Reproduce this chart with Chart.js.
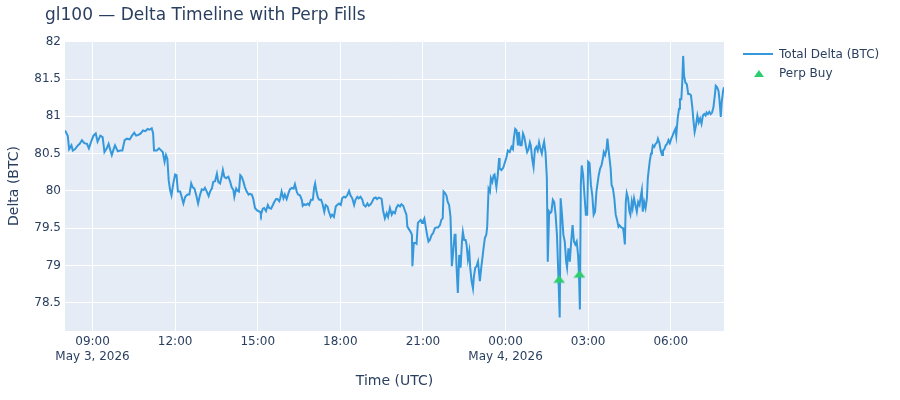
<!DOCTYPE html>
<html>
<head>
<meta charset="utf-8">
<title>gl100 — Delta Timeline with Perp Fills</title>
<script src="https://cdn.jsdelivr.net/npm/chart.js@4.4.1/dist/chart.umd.min.js"></script>
<style>
    body { margin: 0; background: #fff; font-family: 'DejaVu Sans', Verdana, sans-serif; }
    .wrap { position: relative; width: 900px; height: 400px; }
    .wrap canvas { position: absolute; left: 0; top: 0; }
    .chart-title { position: absolute; left: 45px; top: 4px; font-size: 17px; line-height: 20px; color: #2a3f5f; white-space: nowrap; }
    .legend-item { position: absolute; left: 743px; height: 14px; font-size: 12px; line-height: 14px; color: #2a3f5f; white-space: nowrap; }
    .legend-sym { position: absolute; left: 0; top: 0; width: 36px; height: 14px; }
    .legend-text { position: absolute; left: 36px; top: 0; }
    .sym-line { position: absolute; left: 0; top: 6px; width: 30px; height: 2px; background: #3498db; }
    .sym-tri { position: absolute; left: 11px; top: 4px; width: 0; height: 0;
               border-left: 5px solid transparent; border-right: 5px solid transparent; border-bottom: 7px solid #2ecc71; }
</style>
</head>
<body>
<div class="wrap">
    <canvas id="deltaChart" width="900" height="400"></canvas>
    <div class="chart-title">gl100 — Delta Timeline with Perp Fills</div>
    <div id="legend-container"></div>
</div>
<script>
// minutes after 08:00 UTC, May 3 2026
const minutes = [
    0, 6, 9, 14, 17, 22, 28, 32, 37, 42, 48, 52, 57, 62, 67, 71, 77, 82, 86, 91,
    95, 99, 102, 106, 109, 115, 120, 125, 130, 135, 141, 146, 151, 155, 160, 165, 170, 175, 180, 184,
    189, 192, 194, 200, 205, 210, 213, 217, 220, 223, 226, 229, 232, 236, 240, 243, 246, 251, 255, 258,
    262, 267, 271, 275, 278, 282, 286, 290, 294, 298, 302, 305, 309, 313, 316, 320, 323, 327, 331, 334,
    338, 342, 344, 347, 351, 356, 360, 363, 367, 369, 373, 376, 379, 382, 385, 389, 392, 396, 400, 403,
    407, 410, 414, 418, 421, 425, 427, 431, 434, 438, 442, 445, 449, 453, 456, 460, 463, 467, 469, 472,
    476, 479, 483, 487, 490, 494, 498, 501, 505, 508, 512, 516, 518, 521, 525, 529, 532, 536, 540, 543,
    545, 548, 551, 554, 558, 561, 565, 568, 572, 575, 579, 582, 586, 590, 593, 597, 601, 604, 608, 611,
    615, 619, 622, 626, 630, 633, 637, 640, 644, 648, 651, 655, 659, 662, 666, 669, 673, 677, 680, 684,
    688, 690, 693, 697, 701, 704, 708, 712, 715, 719, 722, 726, 730, 733, 737, 741, 744, 746, 750, 753,
    756, 757, 760, 764, 766, 769, 772, 775, 778, 780, 783, 786, 789, 792, 795, 799, 802, 806, 809, 813,
    817, 820, 823, 825, 828, 831, 834, 837, 840, 843, 846, 849, 851, 853, 856, 859, 862, 865, 867, 870,
    873, 875, 878, 881, 883, 886, 889, 891, 894, 897, 900, 904, 907, 910, 912, 915, 918, 920, 923, 926,
    928, 931, 934, 936, 940, 943, 946, 947, 951, 955, 958, 962, 965, 969, 973, 976, 978, 981, 984, 987,
    989, 992, 995, 998, 1001, 1004, 1007, 1010, 1013, 1015, 1018, 1021, 1024, 1027, 1030, 1033, 1036, 1039, 1042, 1044,
    1047, 1050, 1052, 1055, 1057, 1060, 1063, 1066, 1069, 1072, 1075, 1078, 1080, 1083, 1086, 1089, 1092, 1094, 1097, 1100,
    1103, 1106, 1109, 1112, 1115, 1118, 1120, 1122, 1124, 1126, 1129, 1132, 1135, 1138, 1140, 1143, 1146, 1149, 1152, 1155,
    1158, 1160, 1163, 1166, 1169, 1172, 1174, 1177, 1180, 1182, 1185, 1189, 1191, 1194, 1197, 1200, 1203, 1206, 1208, 1212,
    1216, 1218, 1220, 1222, 1224, 1227, 1230, 1232, 1235, 1237, 1240, 1243, 1246, 1249, 1252, 1255, 1257, 1259, 1262, 1265,
    1268, 1270, 1272, 1274, 1277, 1279, 1281, 1284, 1287, 1290, 1292, 1295, 1298, 1301, 1303, 1306, 1309, 1312, 1315, 1318,
    1321, 1324, 1327, 1330, 1332, 1335, 1338, 1340, 1343, 1345, 1347, 1349, 1352, 1355, 1358, 1361, 1364, 1367, 1369, 1372,
    1375, 1378, 1381, 1384, 1387, 1390, 1393, 1396, 1398, 1401, 1404, 1407, 1410, 1413, 1416, 1418, 1421, 1424, 1426, 1429,
    1431, 1434, 1436
];
const totalDelta = [
    80.81, 80.74, 80.56, 80.61, 80.54, 80.56, 80.61, 80.63, 80.68, 80.64, 80.63, 80.57, 80.66, 80.74, 80.77, 80.66, 80.74, 80.72, 80.52, 80.57,
    80.63, 80.54, 80.48, 80.56, 80.61, 80.53, 80.54, 80.54, 80.68, 80.70, 80.69, 80.74, 80.78, 80.74, 80.75, 80.77, 80.81, 80.80, 80.83, 80.82,
    80.84, 80.77, 80.54, 80.54, 80.57, 80.54, 80.52, 80.39, 80.48, 80.43, 80.14, 80.01, 79.94, 80.10, 80.22, 80.21, 79.99, 79.99, 79.90, 79.83,
    79.92, 79.95, 79.95, 80.10, 80.05, 80.03, 79.94, 79.83, 79.94, 80.02, 80.01, 80.04, 79.99, 79.93, 79.99, 80.03, 80.12, 80.13, 80.23, 80.12,
    80.10, 80.21, 80.28, 80.19, 80.17, 80.19, 80.12, 80.05, 80.01, 79.92, 80.03, 80.00, 79.99, 80.21, 80.19, 80.12, 80.05, 79.99, 79.95, 79.96,
    79.95, 79.90, 79.77, 79.74, 79.73, 79.72, 79.68, 79.76, 79.77, 79.73, 79.81, 79.77, 79.76, 79.81, 79.85, 79.89, 79.89, 79.86, 79.90, 79.99,
    79.90, 79.95, 79.89, 79.97, 80.02, 80.04, 80.03, 80.09, 79.99, 79.95, 79.94, 79.88, 79.80, 79.82, 79.81, 79.83, 79.81, 79.88, 79.88, 80.05,
    80.10, 79.99, 79.91, 79.88, 79.88, 79.83, 79.72, 79.81, 79.79, 79.72, 79.65, 79.68, 79.65, 79.79, 79.81, 79.83, 79.81, 79.90, 79.92, 79.91,
    79.94, 80.00, 79.94, 79.90, 79.81, 79.88, 79.92, 79.90, 79.92, 79.88, 79.81, 79.79, 79.83, 79.80, 79.82, 79.85, 79.90, 79.91, 79.89, 79.91,
    79.90, 79.89, 79.74, 79.63, 79.70, 79.65, 79.77, 79.68, 79.72, 79.70, 79.77, 79.81, 79.79, 79.82, 79.80, 79.73, 79.68, 79.52, 79.48, 79.45,
    79.41, 78.99, 79.30, 79.30, 79.29, 79.57, 79.59, 79.61, 79.57, 79.59, 79.63, 79.52, 79.41, 79.32, 79.34, 79.41, 79.43, 79.50, 79.51, 79.51,
    79.54, 79.61, 79.63, 79.99, 79.97, 79.94, 79.85, 79.81, 79.65, 78.99, 79.19, 79.41, 79.41, 79.01, 78.63, 79.14, 78.97, 79.32, 79.45, 79.34,
    79.34, 79.28, 79.08, 79.19, 78.97, 78.79, 78.69, 78.85, 78.97, 78.99, 79.05, 78.79, 78.97, 79.12, 79.23, 79.37, 79.41, 79.52, 80.03, 79.99,
    80.17, 80.12, 80.21, 80.22, 80.05, 80.21, 80.44, 80.30, 80.28, 80.31, 80.37, 80.45, 80.54, 80.52, 80.59, 80.56, 80.70, 80.83, 80.81, 80.61,
    80.79, 80.61, 80.61, 80.77, 80.72, 80.61, 80.52, 80.56, 80.65, 80.61, 80.43, 80.32, 80.56, 80.59, 80.54, 80.65, 80.56, 80.50, 80.61, 80.66,
    80.52, 80.17, 79.05, 79.72, 79.70, 79.72, 79.88, 79.85, 79.68, 79.41, 78.88, 78.30, 79.90, 79.68, 79.41, 79.32, 79.05, 78.97, 79.23, 79.05,
    79.32, 79.54, 79.32, 79.28, 79.32, 79.14, 78.88, 78.41, 80.08, 80.34, 80.21, 79.94, 79.68, 79.68, 80.39, 80.37, 80.08, 79.94, 79.68, 79.72,
    79.99, 80.08, 80.21, 80.30, 80.34, 80.43, 80.52, 80.48, 80.56, 80.70, 80.52, 80.30, 80.08, 80.03, 79.90, 79.68, 79.61, 79.52, 79.54, 79.51,
    79.50, 79.41, 79.28, 79.85, 79.97, 79.90, 79.72, 79.68, 79.85, 79.77, 79.90, 79.81, 79.72, 79.85, 79.81, 79.94, 80.01, 79.72, 79.85, 79.77,
    79.90, 80.17, 80.28, 80.39, 80.50, 80.54, 80.61, 80.59, 80.63, 80.65, 80.70, 80.65, 80.54, 80.48, 80.54, 80.56, 80.61, 80.63, 80.68, 80.64,
    80.70, 80.74, 80.79, 80.83, 80.74, 80.97, 81.10, 81.23, 81.23, 81.45, 81.81, 81.54, 81.45, 81.43, 81.30, 81.30, 81.28, 81.12, 80.97, 80.79,
    80.88, 81.01, 80.92, 80.97, 80.90, 81.01, 81.03, 81.01, 81.05, 81.03, 81.06, 81.03, 81.05, 81.12, 81.28, 81.41, 81.39, 81.34, 81.23, 80.99,
    81.19, 81.34, 81.39
];

// perp buy fills
const buyMinutes = [1077, 1121];
const buyDelta = [78.80, 78.87];

// axis ticks
const xTickMinutes = [60, 240, 420, 600, 780, 960, 1140, 1320];
const xTickLabels = [['09:00', 'May 3, 2026'], '12:00', '15:00', '18:00', '21:00', ['00:00', 'May 4, 2026'], '03:00', '06:00'];
const yTicks = [78.5, 79, 79.5, 80, 80.5, 81, 81.5, 82];

const FONT = "'DejaVu Sans', Verdana, sans-serif";
const TEXT = '#2a3f5f';
const LINE_COLOR = '#3498db';
const BUY_COLOR = '#2ecc71';

const linePoints = minutes.map((m, i) => ({ x: m, y: totalDelta[i] }));
const buyPoints = buyMinutes.map((m, i) => ({ x: m, y: buyDelta[i] }));

// 1. triangle marker (plotly triangle-up shape, size 10)
function makeTriangle() {
    const c = document.createElement('canvas');
    c.width = 12;
    c.height = 10;
    const g = c.getContext('2d');
    g.fillStyle = BUY_COLOR;
    g.beginPath();
    g.moveTo(0.2, 7.5);
    g.lineTo(11.8, 7.5);
    g.lineTo(6, 0);
    g.closePath();
    g.fill();
    return c;
}

// plot background like plotly
const plotBg = {
    id: 'plotBg',
    beforeDraw(chart) {
        const { ctx, chartArea: a } = chart;
        ctx.save();
        ctx.fillStyle = '#E5ECF6';
        ctx.fillRect(a.left, a.top, a.right - a.left, a.bottom - a.top);
        ctx.restore();
    }
};

// 2. chart
const ctx = document.getElementById('deltaChart').getContext('2d');
new Chart(ctx, {
    type: 'line',
    data: {
        datasets: [
            {
                label: 'Perp Buy',
                data: buyPoints,
                showLine: false,
                pointStyle: makeTriangle(),
                pointRadius: 5,
                order: 0
            },
            {
                label: 'Total Delta (BTC)',
                data: linePoints,
                borderColor: LINE_COLOR,
                borderWidth: 2,
                pointRadius: 0,
                tension: 0,
                fill: false,
                order: 1
            }
        ]
    },
    options: {
        responsive: false,
        animation: false,
        layout: { padding: { left: 0, right: 176, top: 41, bottom: 0 } },
        plugins: {
            legend: { display: false },
            tooltip: { enabled: false },
            title: { display: false }
        },
        scales: {
            x: {
                type: 'linear',
                min: minutes[0],
                max: minutes[minutes.length - 1],
                afterBuildTicks: s => { s.ticks = xTickMinutes.map(v => ({ value: v })); },
                afterFit: s => { s.height = 69; },
                grid: { color: '#ffffff', lineWidth: 1, drawTicks: false },
                border: { display: false },
                ticks: {
                    padding: 4,
                    color: TEXT,
                    font: { family: FONT, size: 12 },
                    maxRotation: 0,
                    autoSkip: false,
                    callback: (v, i) => xTickLabels[i]
                },
                title: {
                    display: true,
                    text: 'Time (UTC)',
                    color: TEXT,
                    font: { family: FONT, size: 14 },
                    padding: { top: 0, bottom: 10 }
                }
            },
            y: {
                min: 78.12,
                max: 82.01,
                afterBuildTicks: s => { s.ticks = yTicks.map(v => ({ value: v })); },
                afterFit: s => { s.width = 65; },
                grid: { color: '#ffffff', lineWidth: 1, drawTicks: false },
                border: { display: false },
                ticks: {
                    padding: 4,
                    color: TEXT,
                    font: { family: FONT, size: 12 },
                    callback: v => String(v)
                },
                title: {
                    display: true,
                    text: 'Delta (BTC)',
                    color: TEXT,
                    font: { family: FONT, size: 14 },
                    padding: { top: 6, bottom: 0 }
                }
            }
        }
    },
    plugins: [plotBg]
});

// 3. legend (custom html, plotly style)
const legendContainer = document.getElementById('legend-container');
const legendItems = [
    { name: 'Total Delta (BTC)', sym: 'sym-line', top: 47 },
    { name: 'Perp Buy', sym: 'sym-tri', top: 66 }
];
for (let i = 0; i < legendItems.length; i++) {
    legendContainer.innerHTML += `
        <div class="legend-item" style="top: ${legendItems[i].top}px">
            <div class="legend-sym"><span class="${legendItems[i].sym}"></span></div>
            <span class="legend-text">${legendItems[i].name}</span>
        </div>
    `;
}
</script>
</body>
</html>
